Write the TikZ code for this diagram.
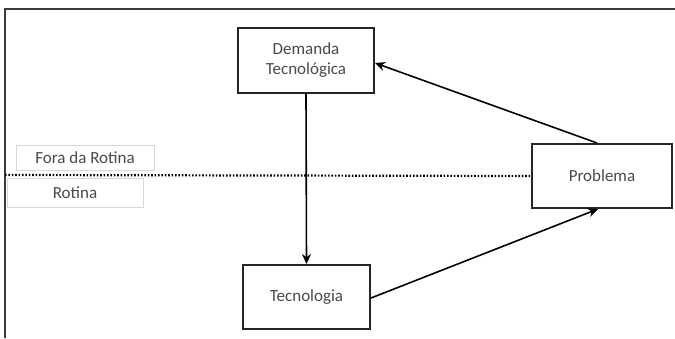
\documentclass[tikz,border=0pt]{standalone}
\usepackage{fontspec}
\setmainfont{Carlito}
\usetikzlibrary{arrows.meta}
\definecolor{txtgray}{HTML}{4A4A4A}
\definecolor{framegray}{HTML}{3A3A3A}
\definecolor{lightbox}{HTML}{D8D8D8}
\tikzset{
  mainbox/.style={draw=black!85, line width=2pt, fill=white, font=\fontsize{17}{20}\selectfont, text=txtgray, align=center, inner sep=0pt},
  labbox/.style={draw=lightbox, line width=0.8pt, fill=white, font=\fontsize{17}{20}\selectfont, text=txtgray, inner sep=0pt},
  conn/.style={line width=1.6pt, -{Stealth[length=10pt,width=9pt]}}
}
\begin{document}
\begin{tikzpicture}[x=1pt,y=-1pt]
\useasboundingbox (0,0) rectangle (675,338);
% frame
\draw[framegray, line width=2pt] (5,338) -- (5,9) -- (675,9);
% label boxes
\node[labbox, minimum width=138pt, minimum height=25pt] (fora) at (85,157.5) {Fora da Rotina};
\node[labbox, minimum width=136pt, minimum height=29pt] (rot) at (75,192.5) {Rotina};
% main boxes
\node[mainbox, minimum width=136pt, minimum height=65pt] (dem) at (306,60.5) {Demanda\\Tecnológica};
\node[mainbox, minimum width=140pt, minimum height=64pt] (prob) at (602,176) {Problema};
\node[mainbox, minimum width=127pt, minimum height=64pt] (tec) at (306.5,297) {Tecnologia};
% dotted line
\coordinate (dl) at (5,175);
\draw[black, line width=2.2pt, dash pattern=on 1.6pt off 1.8pt] (dl) -- (prob.west);
% connectors
\draw[conn] (dem.south) -- (tec.north);
\draw[conn] ([xshift=-5pt]prob.north) -- ([yshift=-2.5pt]dem.east);
\draw[conn] ([yshift=-1pt]tec.east) -- ([xshift=-4pt]prob.south);
\end{tikzpicture}
\end{document}
